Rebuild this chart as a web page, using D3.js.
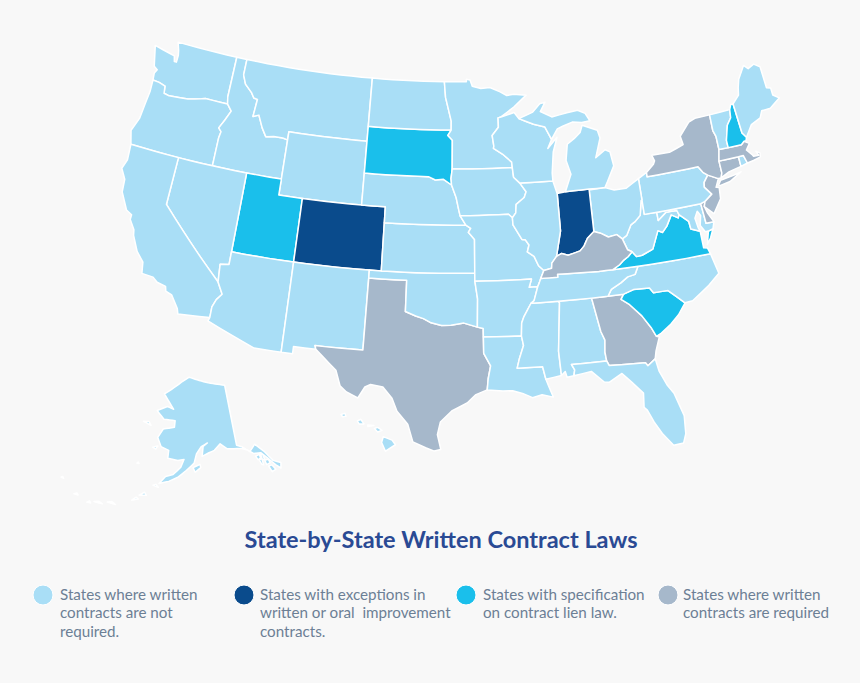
<!DOCTYPE html>
<html>
<head>
<meta charset="utf-8">
<script src="https://cdn.jsdelivr.net/npm/d3@7"></script>
<style>
  html, body { margin: 0; padding: 0; background: #f8f8f8; }
  svg { display: block; font-family: Lato, "Open Sans", sans-serif; }
</style>
</head>
<body>
<svg id="chart" width="860" height="683"></svg>
<script>
const WA = [[-124.73,48.38],[-123.1,48.15],[-122.75,48.1],[-122.6,47.75],[-122.4,47.75],[-122.4,48.2],[-122.5,48.5],[-122.76,49],[-117.03,49],[-117.04,46.42],[-116.92,45.99],[-118.98,46],[-119.3,45.93],[-120.5,45.7],[-121.2,45.65],[-122.2,45.58],[-122.7,45.65],[-122.8,46.1],[-123.4,46.22],[-124,46.25],[-124.07,46.7],[-123.9,46.95],[-124.25,47.1],[-124.4,47.5]];
const OR = [[-124,46.25],[-123.4,46.22],[-122.8,46.1],[-122.7,45.65],[-122.2,45.58],[-121.2,45.65],[-120.5,45.7],[-119.3,45.93],[-118.98,46],[-116.92,45.99],[-116.46,45.6],[-116.85,44.95],[-117.22,44.4],[-116.95,44.2],[-117.03,43.8],[-117.03,42],[-124.21,42],[-124.55,42.84],[-124.15,43.7],[-124.05,44.7],[-123.95,45.5]];
const ID = [[-117.03,49],[-116.05,49],[-116.05,48],[-115.7,47.45],[-115,47],[-114.7,46.7],[-114.35,46.65],[-114.45,45.55],[-113.95,45.7],[-113.45,44.95],[-113,44.45],[-112.3,44.55],[-111.5,44.55],[-111.05,44.48],[-111.05,42],[-117.03,42],[-117.03,43.8],[-116.95,44.2],[-117.22,44.4],[-116.85,44.95],[-116.46,45.6],[-116.92,45.99],[-117.04,46.42]];
const MT = [[-116.05,49],[-104.05,49],[-104.05,45],[-111.05,45],[-111.05,44.48],[-111.5,44.55],[-112.3,44.55],[-113,44.45],[-113.45,44.95],[-113.95,45.7],[-114.45,45.55],[-114.35,46.65],[-114.7,46.7],[-115,47],[-115.7,47.45],[-116.05,48]];
const WY = [[-111.05,45],[-104.05,45],[-104.05,41],[-111.05,41]];
const UT = [[-114.05,42],[-111.05,42],[-111.05,41],[-109.05,41],[-109.05,37],[-114.05,37]];
const CO = [[-109.05,41],[-102.05,41],[-102.05,37],[-109.05,37]];
const NV = [[-120,42],[-114.05,42],[-114.05,36.2],[-114.74,36.1],[-114.63,35],[-120,39]];
const CA = [[-124.21,42],[-120,42],[-120,39],[-114.63,35],[-114.14,34.3],[-114.5,33.9],[-114.72,33.4],[-114.72,32.72],[-117.12,32.53],[-117.25,32.85],[-117.9,33.6],[-118.4,33.75],[-118.5,34.03],[-119.2,34.15],[-119.6,34.4],[-120.5,34.45],[-120.65,35.15],[-121.3,35.7],[-121.9,36.6],[-122,36.95],[-122.5,37.5],[-122.5,37.8],[-123,38],[-123.75,39],[-123.85,39.8],[-124.35,40.4],[-124.1,41]];
const AZ = [[-114.05,37],[-109.05,37],[-109.05,31.33],[-111.07,31.33],[-114.81,32.5],[-114.72,32.72],[-114.72,33.4],[-114.5,33.9],[-114.14,34.3],[-114.63,35],[-114.74,36.1],[-114.05,36.2]];
const NM = [[-109.05,37],[-103,37],[-103.04,32],[-106.62,32],[-106.53,31.78],[-108.2,31.78],[-108.2,31.33],[-109.05,31.33]];
const TX = [[-103,36.5],[-100,36.5],[-100,34.56],[-99.2,34.3],[-98.6,34.15],[-98,33.9],[-97.2,33.75],[-96.5,33.77],[-95.5,33.9],[-94.48,33.64],[-94.04,33.55],[-94.04,33.02],[-94.04,32],[-93.55,31.2],[-93.75,30.4],[-93.84,29.7],[-94.7,29.4],[-95.3,28.9],[-96.4,28.4],[-97.2,27.7],[-97.4,26.9],[-97.15,25.96],[-97.6,25.85],[-98.2,26.05],[-99.1,26.4],[-99.5,27.5],[-100.3,28.3],[-100.7,29.1],[-101.4,29.77],[-102.3,29.88],[-102.7,29.7],[-103.15,28.98],[-104,29.3],[-104.5,29.65],[-104.9,30.6],[-106,31.4],[-106.53,31.78],[-106.62,32],[-103.04,32]];
const OK = [[-103,37],[-94.62,37],[-94.62,36.5],[-94.43,35.4],[-94.48,33.64],[-95.5,33.9],[-96.5,33.77],[-97.2,33.75],[-98,33.9],[-98.6,34.15],[-99.2,34.3],[-100,34.56],[-100,36.5],[-103,36.5]];
const KS = [[-102.05,40],[-95.3,40],[-94.9,39.8],[-95.1,39.55],[-94.6,39.1],[-94.62,37],[-102.05,37]];
const NE = [[-104.05,43],[-98.5,43],[-97.9,42.8],[-97.2,42.85],[-96.5,42.5],[-96.1,41.7],[-95.9,41],[-95.77,40.58],[-95.3,40],[-102.05,40],[-102.05,41],[-104.05,41]];
const SD = [[-104.05,45.94],[-96.56,45.94],[-96.85,45.6],[-96.45,45.3],[-96.45,43.5],[-96.55,42.9],[-96.5,42.5],[-97.2,42.85],[-97.9,42.8],[-98.5,43],[-104.05,43]];
const ND = [[-104.05,49],[-97.23,49],[-97.1,48],[-96.56,46.5],[-96.56,45.94],[-104.05,45.94]];
const MN = [[-97.23,49],[-95.15,49],[-95.15,49.15],[-94.8,49.1],[-94.6,48.7],[-93.8,48.55],[-92.95,48.6],[-92,48.3],[-91.4,48.05],[-90.75,48.1],[-89.6,48],[-90.8,47.3],[-92.02,46.71],[-92.29,46.66],[-92.29,46.07],[-92.88,45.57],[-92.76,44.9],[-92.8,44.75],[-92.03,44.38],[-91.25,43.85],[-91.22,43.5],[-96.45,43.5],[-96.45,45.3],[-96.85,45.6],[-96.56,45.94],[-96.56,46.5],[-97.1,48]];
const IA = [[-96.45,43.5],[-91.22,43.5],[-91.15,42.9],[-90.64,42.51],[-90.15,41.95],[-90.34,41.6],[-91.05,41.2],[-91.12,40.67],[-91.42,40.38],[-91.73,40.61],[-95.77,40.58],[-95.9,41],[-96.1,41.7],[-96.5,42.5],[-96.55,42.9]];
const MO = [[-95.77,40.58],[-91.73,40.61],[-91.42,40.38],[-91.4,39.93],[-91.05,39.45],[-90.73,39],[-90.45,38.96],[-90.18,38.63],[-90.35,38.2],[-89.83,37.9],[-89.52,37.3],[-89.13,36.98],[-89.42,36.5],[-89.55,36.25],[-89.7,36],[-90.37,36],[-90.15,36.5],[-94.62,36.5],[-94.62,37],[-94.6,39.1],[-95.1,39.55],[-94.9,39.8],[-95.3,40]];
const AR = [[-94.62,36.5],[-90.15,36.5],[-90.37,36],[-89.7,36],[-90.05,35.15],[-90.3,35],[-90.6,34.6],[-90.9,34.2],[-91.1,33.8],[-91.17,33],[-94.04,33.02],[-94.04,33.55],[-94.48,33.64],[-94.43,35.4]];
const LA = [[-94.04,33.02],[-91.17,33],[-91.05,32.4],[-91.4,31.6],[-91.6,31],[-89.73,31],[-89.55,30.2],[-89.4,29.8],[-89.1,29.05],[-89.9,29.25],[-90.6,29.1],[-91.3,29.4],[-92,29.6],[-92.7,29.6],[-93.84,29.7],[-93.75,30.4],[-93.55,31.2],[-94.04,32]];
const MS = [[-90.3,35],[-88.2,35],[-88.1,34.9],[-88.47,31.9],[-88.4,30.37],[-89.55,30.2],[-89.73,31],[-91.6,31],[-91.4,31.6],[-91.05,32.4],[-91.17,33],[-91.1,33.8],[-90.9,34.2],[-90.6,34.6]];
const AL = [[-88.2,35],[-85.6,35],[-85.18,32.87],[-84.95,32.3],[-85.05,31.55],[-85,31],[-87.6,31],[-87.4,30.65],[-87.5,30.28],[-88,30.23],[-88.1,30.6],[-88.4,30.37],[-88.47,31.9],[-88.1,34.9]];
const GA = [[-85.6,35],[-83.1,35],[-83.35,34.7],[-82.75,34.3],[-81.95,33.5],[-81.4,32.7],[-81.1,32.1],[-80.9,32.03],[-81.3,31.2],[-81.45,30.72],[-82.05,30.36],[-82.2,30.57],[-84.86,30.7],[-85,31],[-85.05,31.55],[-84.95,32.3],[-85.18,32.87]];
const FL = [[-87.6,31],[-85,31],[-84.86,30.7],[-82.2,30.57],[-82.05,30.36],[-81.45,30.72],[-81.3,29.9],[-80.9,29],[-80.5,28.4],[-80.05,26.9],[-80.15,25.75],[-80.4,25.2],[-81.1,25.15],[-81.75,26],[-82.2,26.8],[-82.55,27.6],[-82.75,27.8],[-82.65,28.7],[-83.4,29.5],[-84,30.1],[-85,29.65],[-85.35,29.7],[-86.2,30.45],[-87.5,30.28],[-87.4,30.65]];
const SC = [[-83.35,34.7],[-83.1,35],[-82.3,35.2],[-81.05,35.15],[-80.8,34.82],[-79.67,34.8],[-78.55,33.86],[-79.2,33.2],[-79.9,32.7],[-80.7,32.25],[-81.1,32.1],[-81.4,32.7],[-81.95,33.5],[-82.75,34.3]];
const NC = [[-84.32,35],[-83.1,35],[-82.3,35.2],[-81.05,35.15],[-80.8,34.82],[-79.67,34.8],[-78.55,33.86],[-77.95,33.9],[-76.5,34.65],[-75.55,35.25],[-75.87,36.55],[-81.68,36.59],[-82,36.12],[-82.6,36.03],[-83.2,35.72],[-84,35.4]];
const TN = [[-90.3,35],[-88.2,35],[-85.6,35],[-84.32,35],[-84,35.4],[-83.2,35.72],[-82.6,36.03],[-82,36.12],[-81.68,36.59],[-83.68,36.6],[-84.8,36.6],[-86.5,36.65],[-88.07,36.68],[-88.07,36.5],[-89.42,36.5],[-89.55,36.25],[-89.7,36],[-90.05,35.15]];
const VA = [[-83.68,36.6],[-81.68,36.59],[-75.87,36.55],[-76,36.93],[-76.3,37],[-76.3,37.7],[-76.3,38.05],[-77,38.3],[-77.05,38.8],[-77.72,39.32],[-77.83,39.13],[-78.35,39.4],[-78.87,38.76],[-79.3,38.42],[-79.65,38.58],[-80.3,37.5],[-81.22,37.23],[-81.68,37.2],[-81.97,37.54],[-82.35,37.27],[-82.72,37.1],[-83.1,36.85]];
const VA2 = [[-75.95,37.15],[-75.65,37.95],[-75.25,38.03],[-75.6,37.5]];
const WV = [[-82.6,38.42],[-82.2,38.6],[-81.75,39.2],[-81.4,39.35],[-80.87,39.7],[-80.6,40.6],[-80.52,40.64],[-80.52,39.72],[-79.48,39.72],[-79.48,39.2],[-78.77,39.6],[-78.4,39.62],[-77.83,39.6],[-77.72,39.32],[-77.83,39.13],[-78.35,39.4],[-78.87,38.76],[-79.3,38.42],[-79.65,38.58],[-80.3,37.5],[-81.22,37.23],[-81.68,37.2],[-81.97,37.54],[-82.3,37.7]];
const MD = [[-79.48,39.72],[-75.79,39.72],[-75.7,38.46],[-75.05,38.45],[-75.25,38.03],[-75.65,37.95],[-75.9,37.95],[-76.2,38.4],[-76,39],[-76.2,39.3],[-76.5,38.9],[-76.4,38.3],[-76.3,38.05],[-77,38.3],[-77.05,38.8],[-77.72,39.32],[-77.83,39.6],[-78.4,39.62],[-78.77,39.6],[-79.48,39.2]];
const DE = [[-75.79,39.72],[-75.4,39.8],[-75.55,39.5],[-75.4,39.05],[-75.05,38.45],[-75.7,38.46]];
const PA = [[-80.52,41.98],[-79.76,42.27],[-79.76,42],[-75.35,42],[-75.05,41.6],[-74.7,41.36],[-75.13,40.97],[-75.2,40.68],[-74.72,40.15],[-75.4,39.8],[-75.79,39.72],[-80.52,39.72]];
const NJ = [[-74.7,41.36],[-73.9,41],[-74.25,40.5],[-74,40.45],[-74.1,39.75],[-74.9,38.93],[-75.55,39.5],[-75.4,39.8],[-74.72,40.15],[-75.2,40.68],[-75.13,40.97]];
const NY = [[-79.76,42.27],[-79.05,42.7],[-78.9,42.9],[-79.05,43.27],[-77.5,43.25],[-76.2,43.55],[-76.3,44.1],[-75.3,44.85],[-74.7,45],[-73.35,45],[-73.4,44],[-73.25,43.6],[-73.27,42.75],[-73.5,42.05],[-73.5,41.3],[-73.65,41],[-73.9,41],[-74.7,41.36],[-75.05,41.6],[-75.35,42],[-79.76,42]];
const NY2 = [[-74,40.6],[-73.75,40.87],[-72.6,40.97],[-71.9,41.07],[-73,40.65],[-73.9,40.55]];
const CT = [[-73.5,42.05],[-71.8,42.02],[-71.8,41.4],[-72.9,41.25],[-73.65,41],[-73.5,41.3]];
const RI = [[-71.8,42.02],[-71.38,42.02],[-71.2,41.5],[-71.8,41.4]];
const MA = [[-73.5,42.05],[-73.27,42.75],[-71.3,42.7],[-71,42.87],[-70.6,42.65],[-71,42.3],[-70.65,41.95],[-70.55,41.8],[-70.1,41.78],[-70.25,42.07],[-69.95,41.9],[-70,41.65],[-70.65,41.55],[-71.2,41.5],[-71.38,42.02],[-71.8,42.02]];
const VT = [[-73.35,45],[-71.5,45.01],[-71.6,44.5],[-72.05,44.1],[-72.45,43.2],[-72.46,42.73],[-73.27,42.75],[-73.25,43.6],[-73.4,44]];
const NH = [[-71.5,45.01],[-71.3,45.3],[-71.08,45.3],[-70.98,43.4],[-70.7,43.07],[-70.82,42.87],[-71,42.87],[-71.3,42.7],[-72.46,42.73],[-72.45,43.2],[-72.05,44.1],[-71.6,44.5]];
const ME = [[-71.08,45.3],[-70.4,45.75],[-70.25,46.2],[-70,46.7],[-69.23,47.46],[-68.9,47.18],[-68.3,47.36],[-67.8,47.07],[-67.8,45.7],[-67.45,45.6],[-67.45,45.15],[-66.98,44.85],[-68,44.4],[-68.8,44.4],[-69.1,44],[-70,43.75],[-70.7,43.07],[-70.98,43.4]];
const OH = [[-84.8,41.7],[-83.45,41.73],[-82.7,41.5],[-81.7,41.5],[-80.52,41.98],[-80.52,40.64],[-80.6,40.6],[-80.87,39.7],[-81.4,39.35],[-81.75,39.2],[-82.2,38.6],[-82.6,38.42],[-83,38.73],[-83.7,38.65],[-84.3,38.95],[-84.82,39.1]];
const IN = [[-87.53,41.7],[-86.82,41.76],[-84.8,41.76],[-84.82,39.1],[-85.4,38.73],[-85.75,38.27],[-86.1,38],[-86.6,37.9],[-87.1,37.8],[-87.6,37.95],[-88.03,37.8],[-87.53,39.35]];
const IL = [[-90.64,42.51],[-87.8,42.5],[-87.53,41.7],[-87.53,39.35],[-88.03,37.8],[-88.45,37.4],[-88.5,37.08],[-89.13,36.98],[-89.52,37.3],[-89.83,37.9],[-90.35,38.2],[-90.18,38.63],[-90.45,38.96],[-90.73,39],[-91.05,39.45],[-91.4,39.93],[-91.42,40.38],[-91.12,40.67],[-91.05,41.2],[-90.34,41.6],[-90.15,41.95]];
const KY = [[-89.13,36.98],[-88.5,37.08],[-88.45,37.4],[-88.03,37.8],[-87.6,37.95],[-87.1,37.8],[-86.6,37.9],[-86.1,38],[-85.75,38.27],[-85.4,38.73],[-84.82,39.1],[-84.3,38.95],[-83.7,38.65],[-83,38.73],[-82.6,38.42],[-82.3,37.7],[-81.97,37.54],[-82.35,37.27],[-82.72,37.1],[-83.1,36.85],[-83.68,36.6],[-84.8,36.6],[-86.5,36.65],[-88.07,36.68],[-88.07,36.5],[-89.42,36.5]];
const WI = [[-92.02,46.71],[-90.8,46.95],[-90.4,46.55],[-89.1,46.13],[-88.1,45.9],[-87.6,45.1],[-88,44.55],[-87.1,45.2],[-87.55,44.3],[-87.8,43],[-87.8,42.5],[-90.64,42.51],[-91.15,42.9],[-91.22,43.5],[-91.25,43.85],[-92.03,44.38],[-92.8,44.75],[-92.76,44.9],[-92.88,45.57],[-92.29,46.07],[-92.29,46.66]];
const MI = [[-86.82,41.76],[-84.8,41.76],[-83.45,41.73],[-83.15,42.1],[-82.45,43],[-82.6,43.9],[-83,44.07],[-83.9,43.65],[-83.3,44.85],[-83.45,45.35],[-84.75,45.78],[-85,45.35],[-85.6,45],[-86.25,44.7],[-86.5,43.7],[-86.2,42.8]];
const MI2 = [[-90.4,46.55],[-89.1,46.9],[-88.4,47.4],[-87.9,47.47],[-88.4,46.9],[-87.4,46.5],[-86,46.67],[-85,46.75],[-84.35,46.5],[-84,46],[-84.75,45.95],[-85.6,46.05],[-86.5,45.85],[-87,45.72],[-87.6,45.1],[-88.1,45.9],[-89.1,46.13]];

const AK = [[-156.6,71.35],[-152,70.85],[-148,70.4],[-144,70],[-141,69.65],[-141,60.3],[-139.5,59.9],[-137.5,58.9],[-135.5,59.8],[-133.5,58.4],[-131.8,56.6],[-130,55.9],[-130.5,55.1],[-131.5,55.8],[-133,57.2],[-134.5,58.3],[-136.6,58.5],[-138,59.2],[-140,59.7],[-144,60],[-146,60.9],[-148,60],[-149.7,59.7],[-151.8,59.2],[-151.4,60.7],[-150,61.2],[-152,60.7],[-153.5,59.6],[-154.2,58.2],[-156.5,57],[-158.5,56],[-161,55.2],[-163.5,54.7],[-162,55.9],[-160,56.3],[-158,57.5],[-157.2,58.7],[-159,58.5],[-162,58.7],[-162,59.9],[-164.5,60.3],[-166,61.6],[-164.7,63],[-161,63.5],[-161,64.5],[-165,64.5],[-168,65.6],[-164.5,66.5],[-162,66.2],[-163.8,67.1],[-166.5,68.35],[-163,69.5],[-160,70.5]];
const AK_KODIAK = [[-154.5,57.5],[-152.5,58],[-152.3,57.5],[-153.9,56.8]];
const AK_LAWRENCE = [[-171.8,63.5],[-169,63.2],[-170,63.7]];
const AK_NUNIVAK = [[-167,60],[-165.5,60.3],[-166,59.8]];
const AK_POW = [[-133.5,56],[-132.5,56],[-131.9,55.2],[-133,55]];
const AK_BARANOF = [[-135.5,57.3],[-134.7,57.4],[-134.7,56.4],[-135.1,56.5]];
const AK_CHICHAGOF = [[-136.2,58],[-135,58.1],[-135,57.5],[-135.8,57.4]];
const AK_ADMIRALTY = [[-134.6,58],[-134.1,58],[-134,57.2],[-134.6,57.2]];
const AK_KUPREANOF = [[-134,57],[-133,57],[-132.8,56.4],[-133.9,56.3]];
const AK_UNIMAK = [[-165,54.3],[-163.5,54.1],[-164.2,54.5]];
const AK_UNALASKA = [[-168,52.4],[-166.2,52.6],[-166.8,53]];
const AK_UMNAK = [[-169.5,51.4],[-168,51.8],[-168.6,52]];
const AK_ATKA = [[-175,50.1],[-173,50.1],[-174,50.4]];
const AK_ADAK = [[-178,49.5],[-176,49.6],[-177,49.8]];
const AK_AMCHITKA = [[-179.5,49],[-178.6,49.1],[-179,49.35]];
const AK_KISKA = [[-183,49.4],[-182,49.5],[-182.4,49.7]];
const AK_ATTU = [[-187.5,50.8],[-186.8,50.8],[-187.2,51]];
const AK_PRIBILOF = [[-170.5,57.1],[-169.9,57.1],[-170.2,57.3]];

const HI_BIG = [[-155.9,20.2],[-155.1,19.9],[-154.8,19.5],[-155.7,18.95],[-156.05,19.7]];
const HI_MAUI = [[-156.7,20.9],[-156.4,21],[-156,20.75],[-156.4,20.6]];
const HI_MOLOKAI = [[-157.3,21.2],[-156.75,21.17],[-157.3,21.08]];
const HI_OAHU = [[-158.25,21.55],[-157.95,21.7],[-157.65,21.3],[-158.1,21.3]];
const HI_KAUAI = [[-159.75,22.1],[-159.4,22.2],[-159.3,21.95],[-159.6,21.9]];

const stateOutlines = [
  ["WA",[WA]],["OR",[OR]],["ID",[ID]],["MT",[MT]],["WY",[WY]],["UT",[UT]],["CO",[CO]],["NV",[NV]],["CA",[CA]],
  ["AZ",[AZ]],["NM",[NM]],["TX",[TX]],["OK",[OK]],["KS",[KS]],["NE",[NE]],["SD",[SD]],["ND",[ND]],["MN",[MN]],
  ["IA",[IA]],["MO",[MO]],["AR",[AR]],["LA",[LA]],["MS",[MS]],["AL",[AL]],["GA",[GA]],["FL",[FL]],["SC",[SC]],
  ["NC",[NC]],["TN",[TN]],["VA",[VA,VA2]],["WV",[WV]],["MD",[MD]],["DE",[DE]],["PA",[PA]],["NJ",[NJ]],["NY",[NY,NY2]],
  ["CT",[CT]],["RI",[RI]],["MA",[MA]],["VT",[VT]],["NH",[NH]],["ME",[ME]],["OH",[OH]],["IN",[IN]],["IL",[IL]],
  ["KY",[KY]],["WI",[WI]],["MI",[MI,MI2]]
];
const alaskaOutlines = [AK, AK_KODIAK, AK_LAWRENCE, AK_NUNIVAK, AK_POW, AK_BARANOF, AK_CHICHAGOF, AK_ADMIRALTY, AK_KUPREANOF,
  AK_UNIMAK, AK_UNALASKA, AK_UMNAK, AK_ATKA, AK_ADAK, AK_AMCHITKA, AK_KISKA, AK_ATTU, AK_PRIBILOF];
const hawaiiOutlines = [HI_BIG, HI_MAUI, HI_MOLOKAI, HI_OAHU, HI_KAUAI];

// which law applies, everything not listed is "not required"
const exceptionStates = ["CO","IN"];
const lienStates = ["SD","UT","SC","VA","NH"];
const requiredStates = ["TX","GA","KY","NY","NJ","DE","CT","MA"];

const groupKeys = ["none","exception","lien","required"];
const groupColors = ["#a9def6","#0a4b8c","#1abfeb","#a6b8cb"];
const legendLines = [
  ["States where written","contracts are not","required."],
  ["States with exceptions in","written or oral  improvement","contracts."],
  ["States with specification","on contract lien law."],
  ["States where written","contracts are required"]
];
const legendX = [43, 244, 466, 668];
const chartTitle = "State-by-State Written Contract Laws";

const color = d3.scaleOrdinal(groupKeys, groupColors);
const groupOf = code => exceptionStates.includes(code) ? "exception"
  : lienStates.includes(code) ? "lien"
  : requiredStates.includes(code) ? "required" : "none";

// long edges follow parallels, so break them up before going on the sphere
function densify(ring) {
  const out = [];
  ring.forEach((p, i) => {
    const q = ring[(i + 1) % ring.length];
    const n = Math.max(Math.ceil(Math.abs(q[0] - p[0])), 1);
    for (let k = 0; k < n; k++) {
      out.push([p[0] + (q[0] - p[0]) * k / n, p[1] + (q[1] - p[1]) * k / n]);
    }
  });
  out.push(out[0]);
  return out;
}

function toFeature(rings) {
  const feature = { type: "MultiPolygon", coordinates: rings.map(r => [densify(r)]) };
  feature.coordinates.forEach(poly => {
    // d3 wants small rings wound the right way round
    if (d3.geoArea({ type: "Polygon", coordinates: poly }) > 2 * Math.PI) poly[0].reverse();
  });
  return feature;
}

const mainland = d3.geoAlbers().scale(912).translate([450, 246]);
const alaska = d3.geoConicEqualArea().rotate([154, 0]).center([-2, 58.5]).parallels([55, 65])
  .scale(375).translate([188, 461]);
const hawaii = d3.geoConicEqualArea().rotate([157, 0]).center([-3, 19.9]).parallels([8, 18])
  .scale(670).translate([338, 440]);

const svg = d3.select("#chart");
svg.append("rect").attr("width", 860).attr("height", 683).attr("fill", "#f8f8f8");

const mapG = svg.append("g").attr("stroke", "#fff").attr("stroke-width", 1.5).attr("stroke-linejoin", "round");

mapG.selectAll("path.state")
  .data(stateOutlines)
  .enter().append("path")
  .attr("class", "state")
  .attr("d", d => d3.geoPath(mainland)(toFeature(d[1])))
  .attr("fill", d => color(groupOf(d[0])));

mapG.append("path").attr("class", "alaska")
  .attr("d", d3.geoPath(alaska)(toFeature(alaskaOutlines)))
  .attr("fill", color("none"));
mapG.append("path").attr("class", "hawaii")
  .attr("d", d3.geoPath(hawaii)(toFeature(hawaiiOutlines)))
  .attr("fill", color("none"));

svg.append("text")
  .attr("x", 441).attr("y", 548)
  .attr("text-anchor", "middle")
  .attr("font-size", 23.5).attr("font-weight", 700)
  .attr("fill", "#2a4a94")
  .text(chartTitle);

const legend = svg.selectAll("g.legend")
  .data(groupKeys)
  .enter().append("g")
  .attr("class", "legend")
  .attr("transform", (d, i) => "translate(" + legendX[i] + ",595)");

legend.append("circle").attr("r", 10).attr("fill", d => color(d))
  .attr("stroke", "#fff").attr("stroke-width", 1);

legend.each(function (d, i) {
  d3.select(this).selectAll("text")
    .data(legendLines[i])
    .enter().append("text")
    .attr("x", i === 0 ? 17 : i === 1 ? 16 : i === 2 ? 17 : 15)
    .attr("y", (t, j) => 5 + j * 18.3)
    .attr("font-size", 15.2)
    .attr("fill", "#6c7f95")
    .style("white-space", "pre")
    .text(t => t);
});
</script>
</body>
</html>
